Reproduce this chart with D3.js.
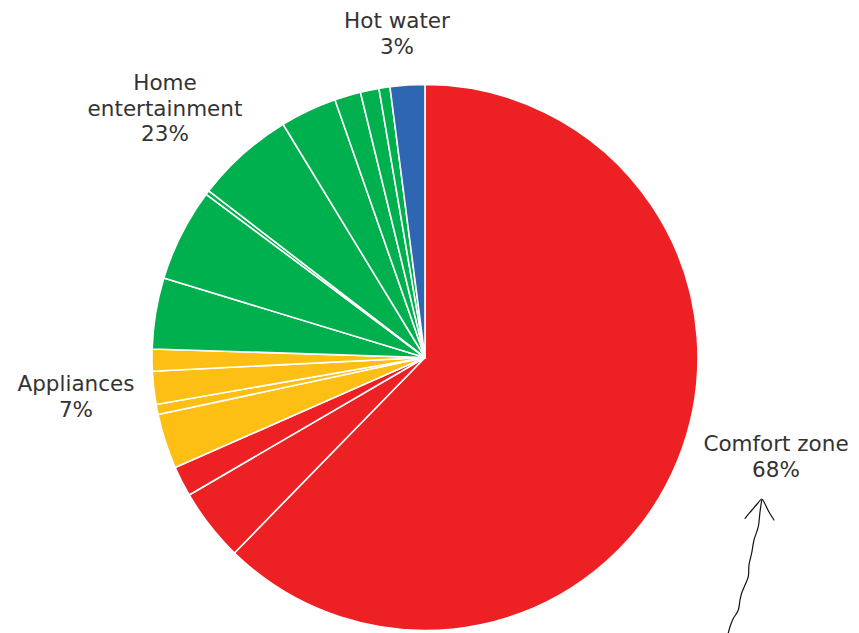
<!DOCTYPE html>
<html>
<head>
<meta charset="utf-8">
<script src="https://cdn.jsdelivr.net/npm/d3@7"></script>
<style>
  html, body { margin: 0; padding: 0; background: #fff; }
  svg { display: block; }
  text { font-family: "DejaVu Sans", "Noto Sans", sans-serif; fill: #333; }
</style>
</head>
<body>
<svg id="chart" width="859" height="633"></svg>
<script>
// Slice values (percent of total), in clockwise order from 12 o'clock
const sliceGroups = ["Comfort zone","Comfort zone","Comfort zone",
  "Appliances","Appliances","Appliances","Appliances",
  "Home entertainment","Home entertainment","Home entertainment","Home entertainment",
  "Home entertainment","Home entertainment","Home entertainment","Home entertainment",
  "Hot water"];
const sliceValues = [62.3, 4.3, 1.8,
  3.25, 0.6, 1.95, 1.3,
  4.2, 5.5, 0.25, 5.85, 3.35, 1.55, 1.1, 0.65,
  2.05];
const groupNames = ["Comfort zone", "Appliances", "Home entertainment", "Hot water"];
const groupLabels = [["Comfort zone", "68%"], ["Appliances", "7%"], ["Home", "entertainment", "23%"], ["Hot water", "3%"]];
const groupColors = ["#ED2024", "#FDBF14", "#00AF4D", "#2E66B1"];

const svg = d3.select("#chart");
const cx = 425, cy = 357.5, R = 273;

const color = d3.scaleOrdinal().domain(groupNames).range(groupColors);
const pie = d3.pie().sort(null).value(d => d.v);
const arc = d3.arc().innerRadius(0).outerRadius(R);

const data = sliceValues.map((v, i) => ({ v, g: sliceGroups[i] }));

const g = svg.append("g").attr("transform", `translate(${cx},${cy})`);
g.selectAll("path.slice")
  .data(pie(data))
  .join("path")
  .attr("class", "slice")
  .attr("d", arc)
  .attr("fill", d => color(d.data.g))
  .attr("stroke", "#fff")
  .attr("stroke-width", 1.6)
  .attr("stroke-linejoin", "round");

// Labels
const labelPos = {
  "Comfort zone": [776, 451],
  "Appliances": [76, 391],
  "Home entertainment": [165, 90],
  "Hot water": [397, 28]
};
groupNames.forEach((name, i) => {
  const [x, y] = labelPos[name];
  const t = svg.append("text")
    .attr("x", x).attr("y", y)
    .attr("text-anchor", "middle")
    .style("font-size", "21.5px");
  groupLabels[i].forEach((line, j) => {
    t.append("tspan").attr("x", x).attr("dy", j === 0 ? 0 : 25.5).text(line);
  });
});

// Hand-drawn arrow annotation
const arrowShaft = [[728.3,633],[730,626.7],[733,619],[738.3,610],[740,600],[741.7,593],[745,585],[748.3,576.7],[749,565],[751.7,553],[754,540],[758.3,526.7],[760,512],[761.7,500]];
const arrowHead = [[745,518.3],[752,510],[758,503],[761.7,499],[765,504],[769,512],[774,520]];
const line = d3.line().curve(d3.curveCatmullRom);
svg.append("path").attr("d", line(arrowShaft)).attr("fill", "none").attr("stroke", "#111").attr("stroke-width", 1.2).attr("stroke-linecap", "round");
svg.append("path").attr("d", line(arrowHead)).attr("fill", "none").attr("stroke", "#111").attr("stroke-width", 1.2).attr("stroke-linecap", "round");
</script>
</body>
</html>
